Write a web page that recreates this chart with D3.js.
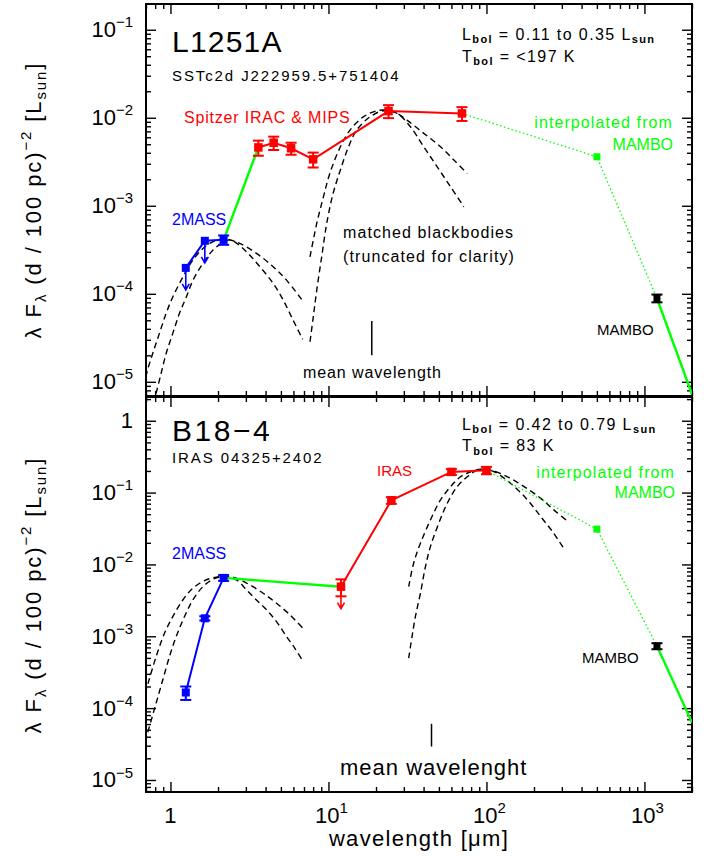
<!DOCTYPE html>
<html>
<head>
<meta charset="utf-8">
<script src="https://cdn.jsdelivr.net/npm/d3@7"></script>
<style>
  body { margin: 0; background: #fff; }
  svg text { font-family: "Liberation Sans", Arial, Helvetica, sans-serif; }
</style>
</head>
<body>
<div id="chart"></div>
<script>
/*
  SED of two cores, lambda F_lambda vs wavelength, log-log
*/

// axes
var xDomain = [0.7, 2000];
var xMajorTicks = [1, 10, 100, 1000];
var yDomainTop = [6.9e-6, 0.196];
var yDomainBot = [6.8e-6, 2.14];
var yMajorTop = [1e-5, 1e-4, 1e-3, 1e-2, 1e-1];
var yMajorBot = [1e-5, 1e-4, 1e-3, 1e-2, 1e-1, 1];

// ---- L1251A ----
var l1251TwoMassWave = [1.25, 1.65, 2.17];
var l1251TwoMassFlux = [1.97e-4, 4.0e-4, 4.1e-4];
var l1251TwoMassErr = [0, 0, 0.5e-4];
var l1251TwoMassUpper = [1, 1, 0];
var l1251SpitzerWave = [3.6, 4.5, 5.8, 8.0, 24, 70];
var l1251SpitzerFlux = [4.6e-3, 5.2e-3, 4.5e-3, 3.37e-3, 1.19e-2, 1.12e-2];
var l1251SpitzerErr = [0.9e-3, 0.9e-3, 0.7e-3, 0.65e-3, 2.0e-3, 2.0e-3];
var l1251SpitzerUpper = [0, 0, 0, 0, 0, 0];
var l1251InterpWave = [500];
var l1251InterpFlux = [3.6e-3];
var l1251MamboWave = [1200];
var l1251MamboFlux = [8.9e-5];
var l1251MamboErr = [0.9e-5];
var l1251ExtrapWave = [2000];
var l1251ExtrapFlux = [7.2e-6];
var l1251MeanWave = 18.8;
var l1251MeanBar = [2.0e-5, 4.9e-5];
// matched blackbodies, [wavelength, flux]
var l1251BbNirWide = [[0.68,8.8e-6],[0.711,1.3e-5],[0.772,2.1e-5],[0.851,3.55e-5],[0.939,6.0e-5],[1.034,9.2e-5],[1.17,1.43e-4],[1.32,2.12e-4],[1.53,3.0e-4],[1.77,3.74e-4],[2.05,4.15e-4],[2.31,4.15e-4],[2.74,3.74e-4],[3.50,2.88e-4],[4.47,2.03e-4],[5.43,1.43e-4],[6.87,8.3e-5]];
var l1251BbNirNarrow = [[0.811,7.4e-6],[0.873,1.25e-5],[0.939,2.1e-5],[1.034,3.55e-5],[1.14,6.0e-5],[1.26,9.2e-5],[1.39,1.43e-4],[1.60,2.2e-4],[1.86,3.14e-4],[2.15,3.85e-4],[2.35,4.1e-4],[2.49,4.0e-4],[3.03,3.0e-4],[3.68,2.03e-4],[4.47,1.31e-4],[5.17,8.5e-5],[5.98,5.0e-5],[6.87,3.03e-5]];
var l1251BbFirWide = [[7.64,2.63e-4],[8.43,6.3e-4],[9.29,1.26e-3],[10.2,2.33e-3],[11.9,4.68e-3],[13.7,7.24e-3],[16.7,1.03e-2],[20.3,1.2e-2],[23.5,1.22e-2],[27,1.13e-2],[31.4,9.4e-3],[40.1,6.65e-3],[51.2,4.68e-3],[62.2,3.31e-3],[75.6,2.33e-3]];
var l1251BbFirNarrow = [[7.64,2.85e-5],[8.02,5.5e-5],[8.43,1.1e-4],[9.06,2.63e-4],[9.75,6.3e-4],[10.7,1.38e-3],[11.9,2.55e-3],[13.4,4.68e-3],[15.1,7.24e-3],[18.4,1.03e-2],[22.3,1.2e-2],[27.2,1.12e-2],[33.0,7.9e-3],[40.1,4.68e-3],[48.8,2.77e-3],[59.3,1.64e-3],[71.9,9.75e-4]];

// ---- B18-4 ----
var b18TwoMassWave = [1.25, 1.65, 2.17];
var b18TwoMassFlux = [1.65e-4, 1.78e-3, 6.5e-3];
var b18TwoMassErr = [0.35e-4, 0.12e-3, 0.6e-3];
var b18TwoMassUpper = [0, 0, 0];
var b18IrasWave = [12, 25, 60, 100];
var b18IrasFlux = [4.9e-3, 7.8e-2, 0.194, 0.204];
var b18IrasErr = [1.3e-3, 0.83e-2, 0.018, 0.024];
var b18IrasUpper = [1, 0, 0, 0];
var b18InterpWave = [500];
var b18InterpFlux = [3.1e-2];
var b18MamboWave = [1200];
var b18MamboFlux = [7.3e-4];
var b18MamboErr = [0.7e-4];
var b18ExtrapWave = [2000];
var b18ExtrapFlux = [6.3e-5];
var b18MeanWave = 44.9;
var b18MeanBar = [2.92e-5, 6.05e-5];
var b18BbNirWide = [[0.69,1.6e-4],[0.725,2.3e-4],[0.811,5.2e-4],[0.916,1.1e-3],[1.034,1.88e-3],[1.197,3.2e-3],[1.386,4.67e-3],[1.644,5.96e-3],[1.95,6.64e-3],[2.2,6.76e-3],[2.61,6.43e-3],[3.18,5.19e-3],[3.86,3.97e-3],[4.69,2.88e-3],[5.70,1.99e-3],[6.87,1.3e-3]];
var b18BbNirNarrow = [[0.69,3.4e-5],[0.78,8.7e-5],[0.811,1.17e-4],[0.894,2.48e-4],[0.985,5.2e-4],[1.087,9.9e-4],[1.227,1.88e-3],[1.386,3.2e-3],[1.604,4.9e-3],[1.857,6.2e-3],[2.15,6.76e-3],[2.61,6.1e-3],[3.03,4.42e-3],[3.5,3.2e-3],[4.06,2.33e-3],[4.69,1.6e-3],[5.43,9.9e-4],[6.13,6.8e-4],[6.77,4.8e-4]];
var b18BbFirWide = [[32.2,4.91e-3],[34.6,1.04e-2],[38.2,1.97e-2],[44.2,4.16e-2],[51.2,7.89e-2],[59.3,0.121],[68.5,0.166],[79.4,0.195],[91.9,0.211],[106,0.206],[136,0.166],[173,0.121],[221,8.3e-2],[268,5.7e-2],[319,4.16e-2]];
var b18BbFirNarrow = [[32.2,4.96e-4],[33.8,9.9e-4],[35.5,1.88e-3],[38.2,3.97e-3],[41.1,9.3e-3],[44.2,1.77e-2],[49.9,3.74e-2],[56.5,7.1e-2],[65.3,0.121],[75.6,0.166],[87.5,0.206],[98,0.21],[112,0.195],[142,0.135],[182,7.9e-2],[221,4.6e-2],[262,2.86e-2],[308,1.68e-2]];

var RED = "#ff0000", GREEN = "#00ff00", BLUE = "#0000ff";

var W = 710, H = 856;
var plotLeft = 146, plotRight = 692;

var svg = d3.select("#chart").append("svg")
  .attr("width", W).attr("height", H);
svg.append("rect").attr("width", W).attr("height", H).attr("fill", "#fff");

var x = d3.scaleLog().domain(xDomain).range([plotLeft, plotRight]);

function isMajor(v) {
  var l = Math.log10(v);
  return Math.abs(l - Math.round(l)) < 1e-9;
}
function zip(w, f) { return w.map(function(v, i) { return [v, f[i]]; }); }

// text with sub / superscripts
function rich(sel, parts, size, subSize) {
  var shift = 0;
  parts.forEach(function(pt) {
    var ts = sel.append("tspan").text(pt.t);
    var target = pt.sub ? size * 0.24 : (pt.sup ? -size * 0.45 : 0);
    if (target !== shift) { ts.attr("dy", target - shift); shift = target; }
    if (pt.sub || pt.sup) ts.attr("font-size", subSize || size * 0.68);
    if (pt.bold) ts.attr("font-weight", "bold");
  });
  return sel;
}

function label(g, o) {
  var t = g.append("text")
    .attr("x", o.x).attr("y", o.y)
    .attr("font-size", o.size || 16)
    .attr("fill", o.color || "#000")
    .attr("text-anchor", o.anchor || "start")
    .attr("letter-spacing", o.ls || 0);
  if (o.parts) rich(t, o.parts, o.size || 16, o.subSize);
  else t.text(o.text);
  return t;
}

function drawPanel(p) {
  var y = d3.scaleLog().domain(p.yDomain).range([p.bottom, p.top]);
  var g = svg.append("g");
  var clipId = "clip-" + p.id;
  svg.append("clipPath").attr("id", clipId)
    .append("rect")
      .attr("x", plotLeft).attr("y", p.top)
      .attr("width", plotRight - plotLeft).attr("height", p.bottom - p.top);

  // ticks, inward on all four sides
  var xMinor = x.ticks().filter(function(v) { return !isMajor(v); });
  var yMinor = y.ticks().filter(function(v) { return !isMajor(v); });
  function tickAxis(axis, values, size, tr) {
    var a = g.append("g").attr("transform", tr)
      .call(axis.tickValues(values).tickSize(size).tickFormat(""));
    a.select(".domain").remove();
    a.selectAll("line").attr("stroke", "#000").attr("stroke-width", 1.4);
  }
  tickAxis(d3.axisBottom(x), xMajorTicks, -10, "translate(0," + p.bottom + ")");
  tickAxis(d3.axisBottom(x), xMinor, -5, "translate(0," + p.bottom + ")");
  tickAxis(d3.axisTop(x), xMajorTicks, -10, "translate(0," + p.top + ")");
  tickAxis(d3.axisTop(x), xMinor, -5, "translate(0," + p.top + ")");
  tickAxis(d3.axisLeft(y), p.yMajor, -10, "translate(" + plotLeft + ",0)");
  tickAxis(d3.axisLeft(y), yMinor, -5, "translate(" + plotLeft + ",0)");
  tickAxis(d3.axisRight(y), p.yMajor, -10, "translate(" + plotRight + ",0)");
  tickAxis(d3.axisRight(y), yMinor, -5, "translate(" + plotRight + ",0)");

  g.append("rect")
    .attr("x", plotLeft).attr("y", p.top)
    .attr("width", plotRight - plotLeft).attr("height", p.bottom - p.top)
    .attr("fill", "none").attr("stroke", "#000").attr("stroke-width", 2);

  // y tick labels
  p.yMajor.forEach(function(v) {
    var e = Math.round(Math.log10(v));
    var t = g.append("text").attr("x", 133).attr("y", y(v) + 7.5)
      .attr("text-anchor", "end").attr("font-size", 22);
    if (e === 0) t.text("1");
    else rich(t, [{t: "10"}, {t: "\u2212" + Math.abs(e), sup: 1}], 22, 15);
  });

  // y title
  var yt = g.append("text")
    .attr("transform", "translate(41," + p.titleY + ") rotate(-90)")
    .attr("text-anchor", "middle").attr("font-size", 22).attr("letter-spacing", 1.9);
  rich(yt, [{t: "\u03bb F"}, {t: "\u03bb", sub: 1}, {t: " (d / 100 pc)"}, {t: "\u22122", sup: 1},
            {t: " [L"}, {t: "sun", sub: 1}, {t: "]"}], 22, 15);

  var line = d3.line().x(function(d) { return x(d[0]); }).y(function(d) { return y(d[1]); });
  var bbLine = d3.line().curve(d3.curveCatmullRom)
    .x(function(d) { return x(d[0]); }).y(function(d) { return y(d[1]); });

  var pg = g.append("g").attr("clip-path", "url(#" + clipId + ")");

  // blackbodies
  p.bodies.forEach(function(b) {
    pg.append("path").datum(b).attr("d", bbLine)
      .attr("fill", "none").attr("stroke", "#000")
      .attr("stroke-width", 1.4).attr("stroke-dasharray", "6,4");
  });

  // connecting lines
  p.segments.forEach(function(s) {
    pg.append("path").datum(s.pts).attr("d", line)
      .attr("fill", "none").attr("stroke", s.color)
      .attr("stroke-width", s.width)
      .attr("stroke-dasharray", s.dash || null);
  });

  // mean wavelength bar
  g.append("line")
    .attr("x1", x(p.meanWave)).attr("x2", x(p.meanWave))
    .attr("y1", y(p.meanBar[0])).attr("y2", y(p.meanBar[1]))
    .attr("stroke", "#000").attr("stroke-width", 1.5);

  // points, error bars, upper-limit arrows
  p.points.forEach(function(s) {
    s.wave.forEach(function(w, i) {
      var cx = x(w), cy = y(s.flux[i]);
      var e = s.err ? s.err[i] : 0;
      if (e > 0) {
        var y1 = y(s.flux[i] + e), y2 = y(s.flux[i] - e);
        g.append("line").attr("x1", cx).attr("x2", cx).attr("y1", y1).attr("y2", y2)
          .attr("stroke", s.color).attr("stroke-width", 2);
        [y1, y2].forEach(function(yy) {
          g.append("line").attr("x1", cx - 5.5).attr("x2", cx + 5.5)
            .attr("y1", yy).attr("y2", yy)
            .attr("stroke", s.color).attr("stroke-width", 2);
        });
      }
      if (s.upper && s.upper[i]) {
        var tip = cy + 22;
        g.append("path")
          .attr("d", "M" + cx + "," + cy + "V" + tip + "M" + (cx - 3.5) + "," + (tip - 6) +
                "L" + cx + "," + tip + "L" + (cx + 3.5) + "," + (tip - 6))
          .attr("fill", "none").attr("stroke", s.color).attr("stroke-width", 1.6);
      }
      g.append("rect")
        .attr("x", cx - s.size / 2).attr("y", cy - s.size / 2)
        .attr("width", s.size).attr("height", s.size)
        .attr("fill", s.color);
    });
  });

  p.labels.forEach(function(o) { label(g, o); });
}

function sedPanel(id, top, bottom, yDomain, yMajor, titleY, d) {
  var twoMass = zip(d.tmW, d.tmF), mid = zip(d.midW, d.midF);
  var interp = zip(d.inW, d.inF), mambo = zip(d.mbW, d.mbF), extrap = zip(d.exW, d.exF);
  return {
    id: id, top: top, bottom: bottom, yDomain: yDomain, yMajor: yMajor, titleY: titleY,
    meanWave: d.meanWave, meanBar: d.meanBar,
    bodies: d.bodies,
    segments: [
      {pts: twoMass, color: BLUE, width: 2},
      {pts: [twoMass[twoMass.length - 1], mid[0]], color: GREEN, width: 2.4},
      {pts: mid, color: RED, width: 2},
      {pts: [mid[mid.length - 1]].concat(interp, mambo), color: GREEN, width: 1.3, dash: "1.5,2.5"},
      {pts: mambo.concat(extrap), color: GREEN, width: 2.4}
    ],
    points: [
      {wave: d.tmW, flux: d.tmF, err: d.tmE, upper: d.tmU, color: BLUE, size: 8},
      {wave: d.midW, flux: d.midF, err: d.midE, upper: d.midU, color: RED, size: 8.5},
      {wave: d.inW, flux: d.inF, color: GREEN, size: 7},
      {wave: d.mbW, flux: d.mbF, err: d.mbE, color: "#000", size: 7}
    ],
    labels: d.labels
  };
}

var lbolSub = function(a) {
  return [{t: "L"}, {t: "bol", sub: 1, bold: 1}, {t: " = " + a + " L"}, {t: "sun", sub: 1, bold: 1}];
};
var tbolSub = function(a) {
  return [{t: "T"}, {t: "bol", sub: 1, bold: 1}, {t: " = " + a}];
};

drawPanel(sedPanel("top", 4, 396, yDomainTop, yMajorTop, 200, {
  tmW: l1251TwoMassWave, tmF: l1251TwoMassFlux, tmE: l1251TwoMassErr, tmU: l1251TwoMassUpper,
  midW: l1251SpitzerWave, midF: l1251SpitzerFlux, midE: l1251SpitzerErr, midU: l1251SpitzerUpper,
  inW: l1251InterpWave, inF: l1251InterpFlux,
  mbW: l1251MamboWave, mbF: l1251MamboFlux, mbE: l1251MamboErr,
  exW: l1251ExtrapWave, exF: l1251ExtrapFlux,
  meanWave: l1251MeanWave, meanBar: l1251MeanBar,
  bodies: [l1251BbNirWide, l1251BbNirNarrow, l1251BbFirWide, l1251BbFirNarrow],
  labels: [
    {x: 172, y: 52, size: 30, ls: 1.2, text: "L1251A"},
    {x: 172, y: 81, size: 15, ls: 1.9, text: "SSTc2d J222959.5+751404"},
    {x: 462, y: 39.5, size: 16, ls: 1.4, subSize: 11, parts: lbolSub("0.11 to 0.35")},
    {x: 462, y: 61.5, size: 16, ls: 1.4, subSize: 11, parts: tbolSub("<197 K")},
    {x: 184, y: 123, size: 16, ls: 0.8, color: RED, text: "Spitzer IRAC & MIPS"},
    {x: 673, y: 128, size: 16, ls: 1.1, color: GREEN, anchor: "end", text: "interpolated from"},
    {x: 673, y: 149.5, size: 16, ls: 0, color: GREEN, anchor: "end", text: "MAMBO"},
    {x: 172, y: 225, size: 16, color: BLUE, text: "2MASS"},
    {x: 343, y: 238, size: 16, ls: 1.1, text: "matched blackbodies"},
    {x: 343, y: 262, size: 16, ls: 1.1, text: "(truncated for clarity)"},
    {x: 597, y: 335, size: 15, text: "MAMBO"},
    {x: 303, y: 378, size: 16, ls: 0.9, text: "mean wavelength"}
  ]
}));

drawPanel(sedPanel("bot", 397, 792, yDomainBot, yMajorBot, 595, {
  tmW: b18TwoMassWave, tmF: b18TwoMassFlux, tmE: b18TwoMassErr, tmU: b18TwoMassUpper,
  midW: b18IrasWave, midF: b18IrasFlux, midE: b18IrasErr, midU: b18IrasUpper,
  inW: b18InterpWave, inF: b18InterpFlux,
  mbW: b18MamboWave, mbF: b18MamboFlux, mbE: b18MamboErr,
  exW: b18ExtrapWave, exF: b18ExtrapFlux,
  meanWave: b18MeanWave, meanBar: b18MeanBar,
  bodies: [b18BbNirWide, b18BbNirNarrow, b18BbFirWide, b18BbFirNarrow],
  labels: [
    {x: 172, y: 441, size: 30, ls: 2.5, text: "B18\u22124"},
    {x: 172, y: 463, size: 15, ls: 1.9, text: "IRAS 04325+2402"},
    {x: 462, y: 429.5, size: 16, ls: 1.4, subSize: 11, parts: lbolSub("0.42 to 0.79")},
    {x: 462, y: 451, size: 16, ls: 1.4, subSize: 11, parts: tbolSub("83 K")},
    {x: 377, y: 476, size: 15, color: RED, text: "IRAS"},
    {x: 675, y: 478, size: 16, ls: 1.1, color: GREEN, anchor: "end", text: "interpolated from"},
    {x: 675, y: 497.5, size: 16, color: GREEN, anchor: "end", text: "MAMBO"},
    {x: 172, y: 559, size: 16, color: BLUE, text: "2MASS"},
    {x: 582, y: 663, size: 15, text: "MAMBO"},
    {x: 340, y: 775, size: 22, ls: 1, text: "mean wavelenght"}
  ]
}));

// x tick labels and title, bottom panel only
xMajorTicks.forEach(function(v) {
  var e = Math.round(Math.log10(v));
  var t = svg.append("text").attr("x", x(v) + (e === 0 ? 0 : 3)).attr("y", 823)
    .attr("text-anchor", "middle").attr("font-size", 22);
  if (e === 0) t.text("1");
  else rich(t, [{t: "10"}, {t: String(e), sup: 1}], 22, 15);
});
svg.append("text").attr("x", (plotLeft + plotRight) / 2).attr("y", 846)
  .attr("text-anchor", "middle").attr("font-size", 22).attr("letter-spacing", 1.3)
  .text("wavelength [\u03bcm]");
</script>
</body>
</html>
